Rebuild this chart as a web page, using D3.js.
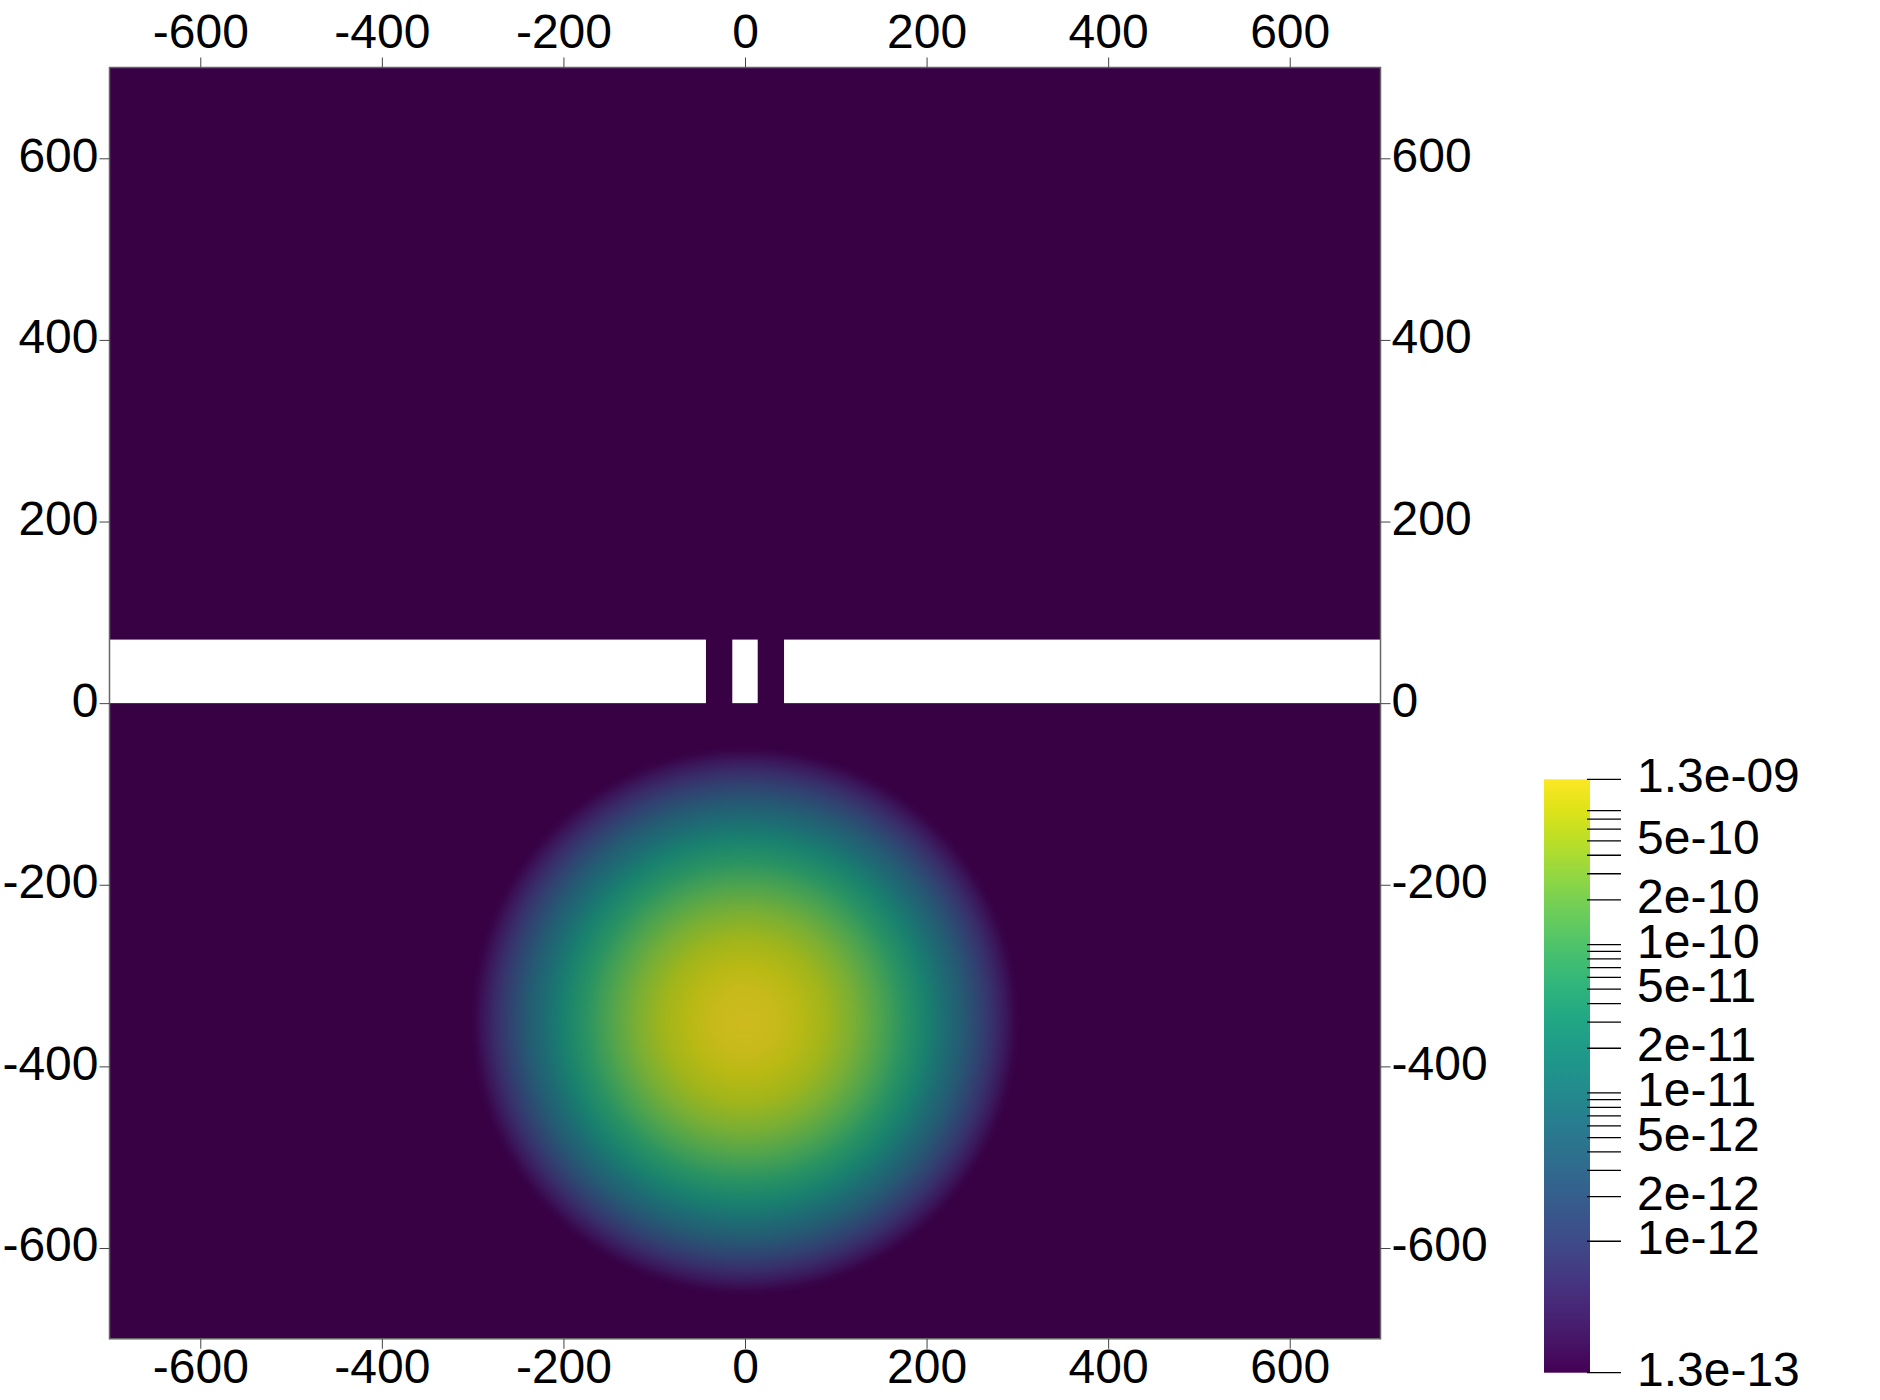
<!DOCTYPE html>
<html>
<head>
<meta charset="utf-8">
<script src="https://cdn.jsdelivr.net/npm/d3@7"></script>
<style>
  html, body { margin: 0; padding: 0; background: #ffffff; }
  svg { display: block; }
  text { font-family: "Liberation Sans", Arial, sans-serif; fill: #000; }
</style>
</head>
<body>
<script>
// ---------------- data ----------------
const xTickValues = [-600, -400, -200, 0, 200, 400, 600];
const yTickValues = [-600, -400, -200, 0, 200, 400, 600];
const xDomain = [-700, 700];
const yDomain = [-700, 700];

// white barrier band (no data) with two slits
const barrierYRange = [0, 70];
const barrierXStart = [-700, -14, 43];
const barrierXEnd   = [-43, 14, 700];

// radial profile of the field around the blob centre
const blobCenterX = 0;
const blobCenterY = -350;
const blobRadius = [0, 30, 60, 90, 120, 150, 175, 200, 220, 240, 260, 275, 288, 297, 303];
const blobValue  = [1.3e-9, 1.2e-9, 9.0e-10, 5.7e-10, 3.0e-10, 1.3e-10, 5.7e-11, 2.3e-11,
                    9.0e-12, 3.6e-12, 1.3e-12, 5.7e-13, 2.7e-13, 1.6e-13, 1.3e-13];

// colour bar
const cbarMin = 1.3e-13, cbarMax = 1.3e-9;
const cbarLabelText   = ["1.3e-09", "5e-10", "2e-10", "1e-10", "5e-11", "2e-11",
                         "1e-11", "5e-12", "2e-12", "1e-12", "1.3e-13"];
const cbarLabelValues = [1.3e-9, 5e-10, 2e-10, 1e-10, 5e-11, 2e-11,
                         1e-11, 5e-12, 2e-12, 1e-12, 1.3e-13];
const cbarTickValues  = [1.3e-9, 8e-10, 7e-10, 6e-10, 5e-10, 4e-10, 3e-10, 2e-10,
                         1e-10, 9e-11, 8e-11, 7e-11, 6e-11, 5e-11, 4e-11, 3e-11, 2e-11,
                         1e-11, 9e-12, 8e-12, 7e-12, 6e-12, 5e-12, 4e-12, 3e-12, 2e-12,
                         1e-12, 1.3e-13];

// ---------------- layout ----------------
const W = 1880, H = 1400;
const plot = { x0: 109.5, x1: 1380.5, y0: 67.5, y1: 1338.8 };
const cbar = { x: 1544, w: 46, y0: 779.3, y1: 1372.7, tickX0: 1587, tickX1: 1621, labelX: 1637 };
const FS = 48;
const shadeK = 0.81;

const svg = d3.select("body").append("svg").attr("width", W).attr("height", H);
const defs = svg.append("defs");

const x = d3.scaleLinear().domain(xDomain).range([plot.x0, plot.x1]);
const y = d3.scaleLinear().domain(yDomain).range([plot.y1, plot.y0]);
const color = d3.scaleSequentialLog(d3.interpolateViridis).domain([cbarMin, cbarMax]).clamp(true);
const shade = v => {
  const c = d3.rgb(color(v));
  return d3.rgb(c.r * shadeK, c.g * shadeK, c.b * shadeK).formatHex();
};
const fmt = d => String(d);

// ---------------- field ----------------
svg.append("clipPath").attr("id", "plotclip").append("rect")
  .attr("x", plot.x0).attr("y", plot.y0)
  .attr("width", plot.x1 - plot.x0).attr("height", plot.y1 - plot.y0);

const field = svg.append("g").attr("clip-path", "url(#plotclip)");

field.append("rect")
  .attr("x", plot.x0).attr("y", plot.y0)
  .attr("width", plot.x1 - plot.x0).attr("height", plot.y1 - plot.y0)
  .attr("fill", shade(cbarMin));

const rMax = blobRadius[blobRadius.length - 1];
const rg = defs.append("radialGradient").attr("id", "blob")
  .attr("gradientUnits", "userSpaceOnUse")
  .attr("cx", x(blobCenterX)).attr("cy", y(blobCenterY))
  .attr("r", x(rMax) - x(0));
rg.selectAll("stop").data(blobRadius).join("stop")
  .attr("offset", (d) => d / rMax)
  .attr("stop-color", (d, i) => shade(blobValue[i]));

field.append("circle")
  .attr("cx", x(blobCenterX)).attr("cy", y(blobCenterY))
  .attr("r", x(rMax) - x(0))
  .attr("fill", "url(#blob)");

field.selectAll("rect.barrier").data(barrierXStart).join("rect")
  .attr("class", "barrier")
  .attr("x", (d) => x(d))
  .attr("width", (d, i) => x(barrierXEnd[i]) - x(d))
  .attr("y", y(barrierYRange[1]))
  .attr("height", y(barrierYRange[0]) - y(barrierYRange[1]))
  .attr("fill", "#ffffff");

// frame
svg.append("rect")
  .attr("x", plot.x0).attr("y", plot.y0)
  .attr("width", plot.x1 - plot.x0).attr("height", plot.y1 - plot.y0)
  .attr("fill", "none").attr("stroke", "#666").attr("stroke-width", 1.5);

// ---------------- axes ----------------
function styleAxis(g) {
  g.select(".domain").remove();
  g.selectAll(".tick line").attr("stroke", "#444").attr("stroke-width", 1);
  g.selectAll(".tick text").style("font-size", FS + "px")
    .style("font-family", '"Liberation Sans", Arial, sans-serif').attr("fill", "#000");
}
svg.append("g").attr("transform", `translate(0,${plot.y0})`)
  .call(d3.axisTop(x).tickValues(xTickValues).tickSize(10).tickPadding(10).tickFormat(fmt))
  .call(styleAxis);
svg.append("g").attr("transform", `translate(0,${plot.y1})`)
  .call(d3.axisBottom(x).tickValues(xTickValues).tickSize(10).tickPadding(0).tickFormat(fmt))
  .call(styleAxis);
svg.append("g").attr("transform", `translate(${plot.x0},0)`)
  .call(d3.axisLeft(y).tickValues(yTickValues).tickSize(10).tickPadding(1).tickFormat(fmt))
  .call(styleAxis)
  .call(g => g.selectAll(".tick text").attr("dy", "0.27em"));
svg.append("g").attr("transform", `translate(${plot.x1},0)`)
  .call(d3.axisRight(y).tickValues(yTickValues).tickSize(10).tickPadding(1).tickFormat(fmt))
  .call(styleAxis)
  .call(g => g.selectAll(".tick text").attr("dy", "0.27em"));

// ---------------- colour bar ----------------
const cy = d3.scaleLog().domain([cbarMin, cbarMax]).range([cbar.y1, cbar.y0]);
const lg = defs.append("linearGradient").attr("id", "cbar")
  .attr("x1", 0).attr("y1", 1).attr("x2", 0).attr("y2", 0);
const stopsT = d3.range(0, 1.0001, 0.05);
lg.selectAll("stop").data(stopsT).join("stop")
  .attr("offset", (d) => d)
  .attr("stop-color", (d) => d3.interpolateViridis(d));

svg.append("rect")
  .attr("x", cbar.x).attr("y", cbar.y0)
  .attr("width", cbar.w).attr("height", cbar.y1 - cbar.y0)
  .attr("fill", "url(#cbar)");

svg.append("g").selectAll("line").data(cbarTickValues).join("line")
  .attr("x1", cbar.tickX0).attr("x2", cbar.tickX1)
  .attr("y1", (d) => cy(d)).attr("y2", (d) => cy(d))
  .attr("stroke", "#000").attr("stroke-width", 1.3);

svg.append("g").selectAll("text").data(cbarLabelValues).join("text")
  .attr("x", cbar.labelX)
  .attr("y", (d) => cy(d))
  .attr("dy", "0.27em")
  .style("font-size", FS + "px")
  .text((d, i) => cbarLabelText[i]);
</script>
</body>
</html>
